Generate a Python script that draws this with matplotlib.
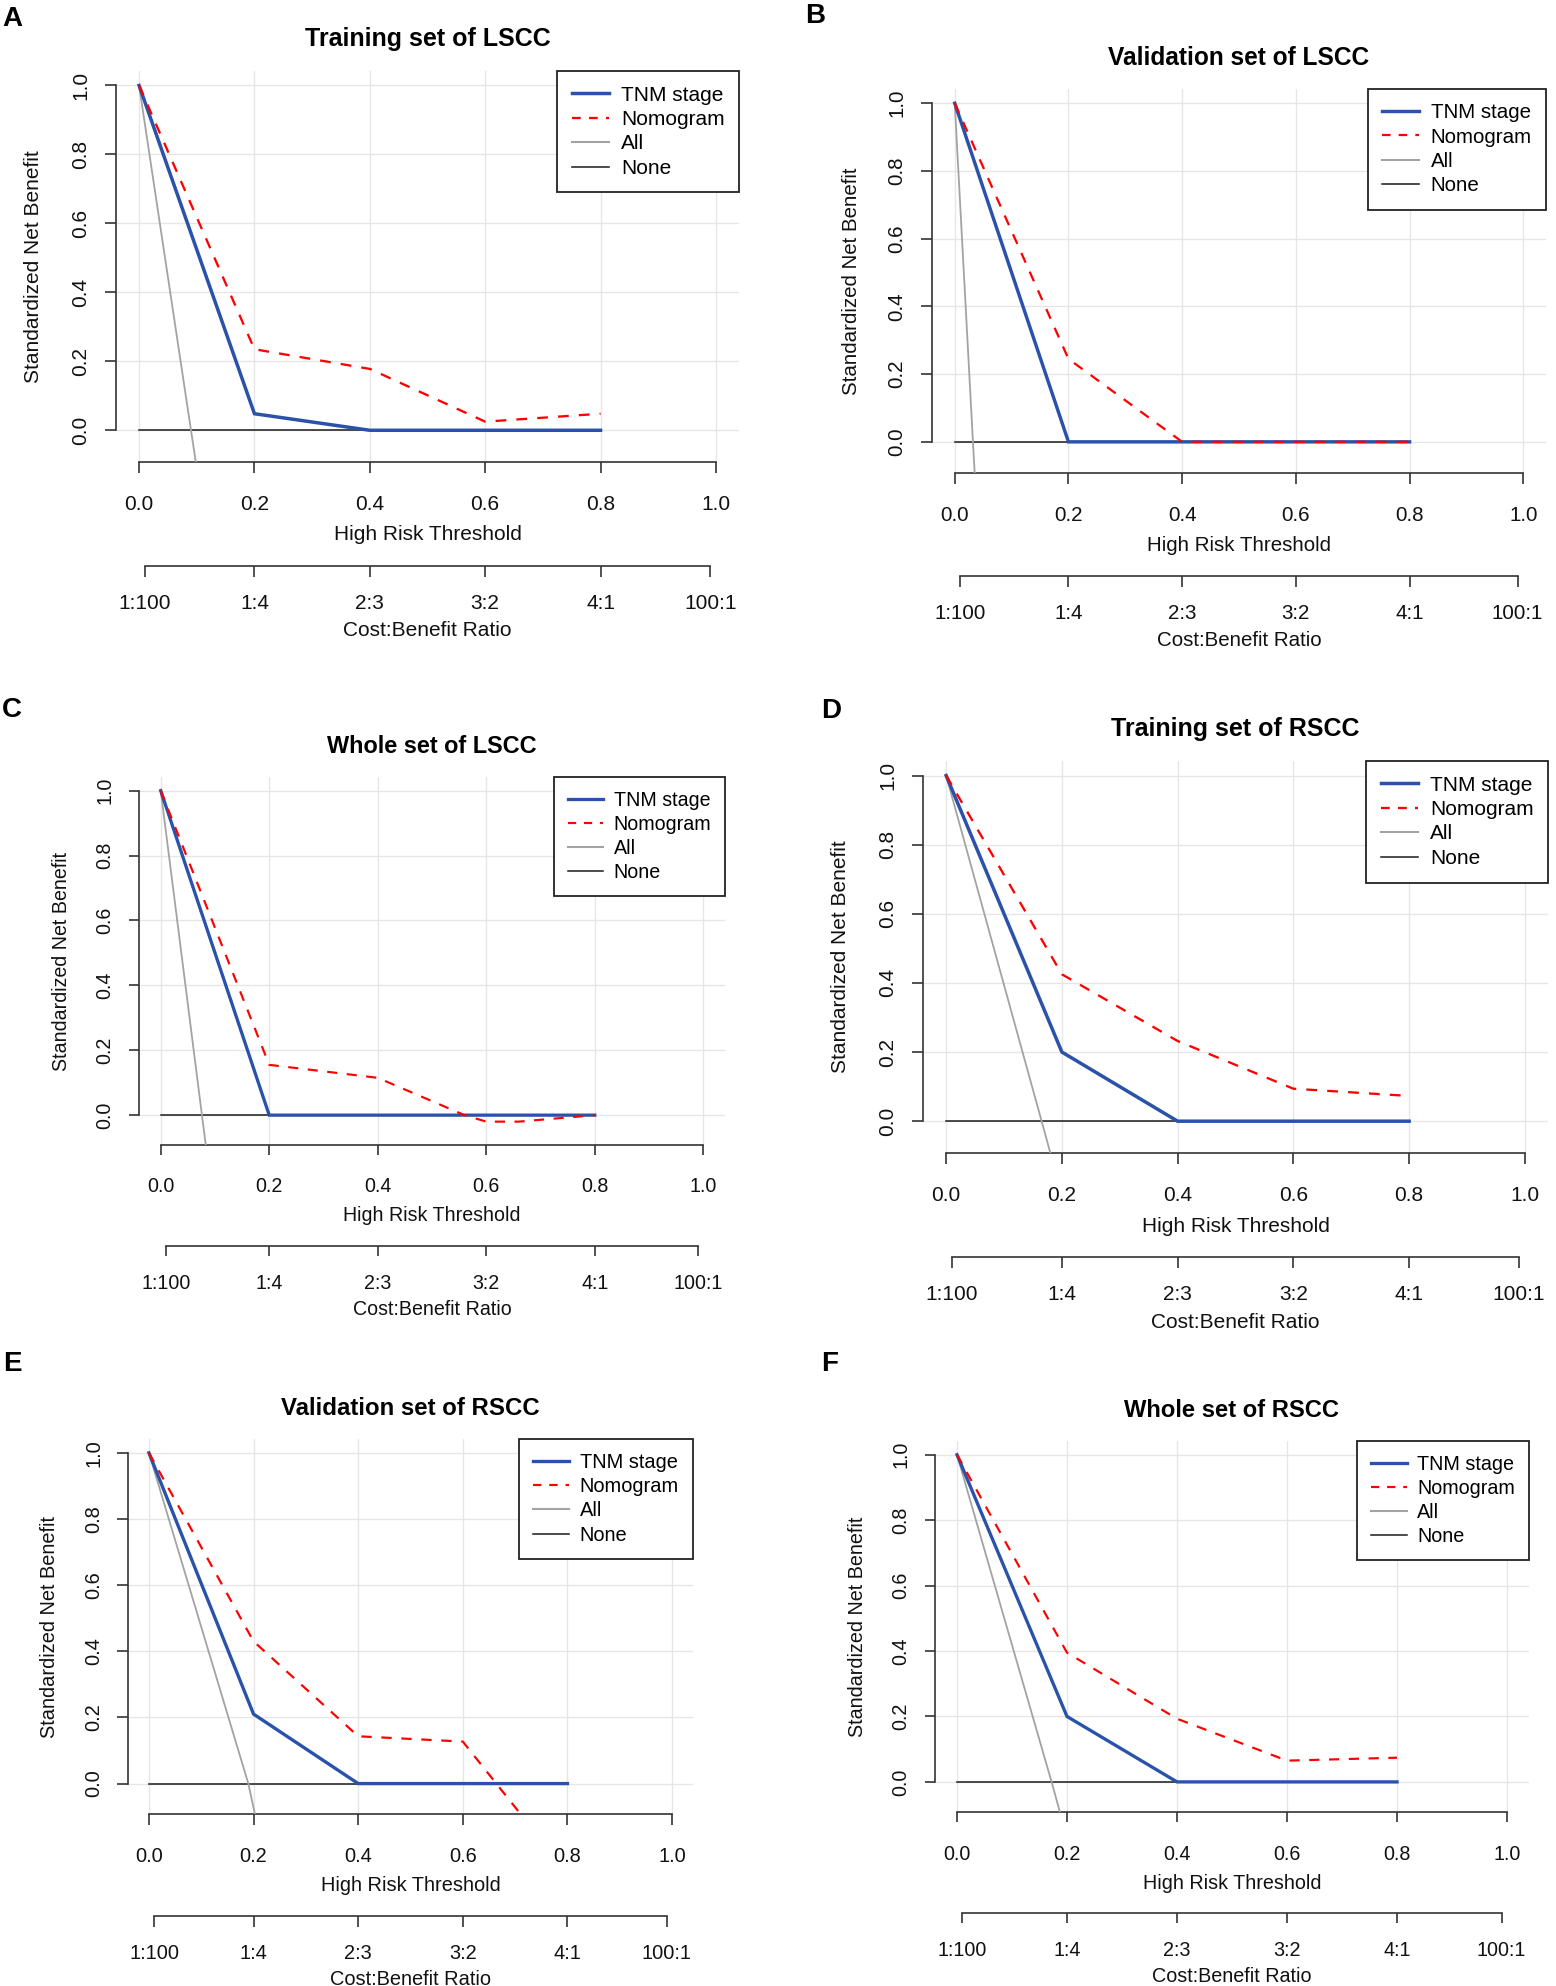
import matplotlib
matplotlib.use("Agg")
import matplotlib.pyplot as plt
import matplotlib.transforms as mtransforms
from matplotlib.lines import Line2D

plt.rcParams['font.family'] = ['Liberation Sans', 'DejaVu Sans']

# ---------------- data ----------------
thresholds = [0.0, 0.2, 0.4, 0.6, 0.8]
x_ticks = [0.0, 0.2, 0.4, 0.6, 0.8, 1.0]
x_ticklabels = ["0.0", "0.2", "0.4", "0.6", "0.8", "1.0"]
y_ticks = [0.0, 0.2, 0.4, 0.6, 0.8, 1.0]
y_ticklabels = ["0.0", "0.2", "0.4", "0.6", "0.8", "1.0"]
cost_ticks = [0.0099, 0.2, 0.4, 0.6, 0.8, 0.990]
cost_labels = ["1:100", "1:4", "2:3", "3:2", "4:1", "100:1"]
legend_labels = ["TNM stage", "Nomogram", "All", "None"]

panel_letters = ["A", "B", "C", "D", "E", "F"]
titles = ["Training set of LSCC", "Validation set of LSCC", "Whole set of LSCC",
          "Training set of RSCC", "Validation set of RSCC", "Whole set of RSCC"]

# TNM stage curves (at thresholds)
tnm_A = [1.0, 0.048, 0.0, 0.0, 0.0]
tnm_B = [1.0, 0.0, 0.0, 0.0, 0.0]
tnm_C = [1.0, 0.0, 0.0, 0.0, 0.0]
tnm_D = [1.0, 0.20, 0.0, 0.0, 0.0]
tnm_E = [1.0, 0.21, 0.0, 0.0, 0.0]
tnm_F = [1.0, 0.20, 0.0, 0.0, 0.0]

# Nomogram curves
nomo_x_A = [0.0, 0.2, 0.4, 0.6, 0.8]
nomo_y_A = [1.0, 0.235, 0.178, 0.025, 0.048]
nomo_x_B = [0.0, 0.2, 0.4, 0.6, 0.8]
nomo_y_B = [1.0, 0.245, 0.0, 0.0, 0.0]
nomo_x_C = [0.0, 0.2, 0.4, 0.56, 0.6, 0.66, 0.8]
nomo_y_C = [1.0, 0.155, 0.115, 0.0, -0.02, -0.02, 0.0]
nomo_x_D = [0.0, 0.2, 0.4, 0.6, 0.8]
nomo_y_D = [1.0, 0.425, 0.232, 0.094, 0.073]
nomo_x_E = [0.0, 0.2, 0.4, 0.6, 0.8]
nomo_y_E = [1.0, 0.43, 0.143, 0.127, -0.27]
nomo_x_F = [0.0, 0.2, 0.4, 0.6, 0.8]
nomo_y_F = [1.0, 0.395, 0.193, 0.065, 0.074]

# "All" (treat all) curves
all_x_A = [0.0, 0.09, 0.10]
all_y_A = [1.0, 0.0, -0.11]
all_x_B = [0.0, 0.032, 0.036]
all_y_B = [1.0, 0.0, -0.12]
all_x_C = [0.0, 0.076, 0.086]
all_y_C = [1.0, 0.0, -0.13]
all_x_D = [0.0, 0.165, 0.183]
all_y_D = [1.0, 0.0, -0.11]
all_x_E = [0.0, 0.19, 0.205]
all_y_E = [1.0, 0.0, -0.11]
all_x_F = [0.0, 0.172, 0.19]
all_y_F = [1.0, 0.0, -0.11]

none_x = [0.0, 0.8]
none_y = [0.0, 0.0]

tnm_all = [tnm_A, tnm_B, tnm_C, tnm_D, tnm_E, tnm_F]
nomo_all = [(nomo_x_A, nomo_y_A), (nomo_x_B, nomo_y_B), (nomo_x_C, nomo_y_C),
            (nomo_x_D, nomo_y_D), (nomo_x_E, nomo_y_E), (nomo_x_F, nomo_y_F)]
treat_all = [(all_x_A, all_y_A), (all_x_B, all_y_B), (all_x_C, all_y_C),
             (all_x_D, all_y_D), (all_x_E, all_y_E), (all_x_F, all_y_F)]

# ---------------- layout (pixels, origin top-left) ----------------
W, H = 1556, 1986
boxes = [(116, 71, 739, 462), (932, 89, 1546, 473), (139, 777, 725, 1145),
         (923, 761, 1548, 1153), (128, 1439, 693, 1814), (935, 1441, 1529, 1812)]
letter_pos = [(12, 19), (815, 16), (12, 710), (831, 711), (12, 1364), (830, 1364)]

BLUE = "#2A52AA"
RED = "#FF0000"
GRAY = "#A3A3A3"
BLACK = "#1A1A1A"
AXC = "#333333"
GRIDC = "#E6E6E6"
PX2PT = 72.0 / 100.0

fig = plt.figure(figsize=(W / 100, H / 100), dpi=100)

for i in range(6):
    l, t, r, b = boxes[i]
    wpx, hpx = r - l, b - t
    s = hpx / 391.0
    so = (1.0 + s) / 2.0
    ax = fig.add_axes([l / W, 1 - b / H, wpx / W, hpx / H])
    ax.set_xlim(-0.04, 1.04)
    ax.set_ylim(-0.092, 1.042)
    ax.set_xticks(x_ticks)
    ax.set_xticklabels(x_ticklabels)
    ax.set_yticks(y_ticks)
    ax.set_yticklabels(y_ticklabels, rotation=90, va="center")
    ax.grid(True, color=GRIDC, lw=1.0, zorder=0)
    ax.set_axisbelow(True)
    for sp in ("top", "right"):
        ax.spines[sp].set_visible(False)
    for sp in ("left", "bottom"):
        ax.spines[sp].set_color(AXC)
        ax.spines[sp].set_linewidth(1.2)
        ax.spines[sp].set_bounds(0, 1)
    fs = 15 * s
    ax.tick_params(axis="both", direction="out", length=11 * s * PX2PT, width=1.2,
                   color=AXC, labelsize=fs, labelcolor="#111111")
    ax.tick_params(axis="x", pad=(41 * so - 7.8 * s - 11 * s) * PX2PT)
    ax.tick_params(axis="y", pad=(26 * s - 11 * s) * PX2PT)

    # curves
    ax.plot(none_x, none_y, color=BLACK, lw=1.1, zorder=2)
    ax.plot(treat_all[i][0], treat_all[i][1], color=GRAY, lw=1.3, zorder=3)
    ax.plot(thresholds, tnm_all[i], color=BLUE, lw=2.5 * s, zorder=4,
            solid_joinstyle="miter")
    ax.plot(nomo_all[i][0], nomo_all[i][1], color=RED, lw=1.65 * s, zorder=5,
            linestyle=(0, (4.7, 4.4)))

    ax.set_xlabel("High Risk Threshold", fontsize=fs, va="center", color="#111111")
    ax.xaxis.set_label_coords(0.5, -73 * so / hpx)
    ax.set_ylabel("Standardized Net Benefit", fontsize=fs, va="center", color="#111111")
    ax.yaxis.set_label_coords(-82 * s / wpx, 0.5)
    ax.set_title(titles[i], fontsize=18 * s, fontweight="bold", y=1 + 32 * s / hpx,
                 va="center", pad=0)

    handles = [Line2D([], [], color=BLUE, lw=2.5 * s),
               Line2D([], [], color=RED, lw=1.65 * s, linestyle=(0, (3.8, 3.6))),
               Line2D([], [], color=GRAY, lw=1.5),
               Line2D([], [], color=BLACK, lw=1.1)]
    leg = ax.legend(handles, legend_labels, loc="upper right", bbox_to_anchor=(1, 1),
                    borderaxespad=0, fontsize=fs, frameon=True, fancybox=False,
                    edgecolor="#222222", framealpha=1, handlelength=1.8,
                    handletextpad=0.55, borderpad=0.7, labelspacing=0.26)
    leg.get_frame().set_linewidth(1.3)

    # cost:benefit axis
    cy = b + 104 * so
    cax = fig.add_axes([l / W, 1 - cy / H, wpx / W, 1e-6])
    cax.set_xlim(-0.04, 1.04)
    cax.patch.set_visible(False)
    cax.yaxis.set_visible(False)
    for sp in ("top", "right", "left"):
        cax.spines[sp].set_visible(False)
    cax.spines["bottom"].set_color(AXC)
    cax.spines["bottom"].set_linewidth(1.2)
    cax.spines["bottom"].set_bounds(cost_ticks[0], cost_ticks[-1])
    cax.set_xticks(cost_ticks)
    cax.set_xticklabels(cost_labels)
    cax.tick_params(axis="x", direction="out", length=11 * s * PX2PT, width=1.2,
                    color=AXC, labelsize=fs, labelcolor="#111111",
                    pad=(36 * so - 7.8 * s - 11 * s) * PX2PT)
    cax.set_xlabel("Cost:Benefit Ratio", fontsize=fs, va="center", color="#111111")
    cax.xaxis.set_label_coords(0.5, 0)
    cax.xaxis.label.set_transform(
        mtransforms.offset_copy(cax.transAxes, fig=fig, x=0, y=-65 * so, units="dots"))
    cax.xaxis.label.set_position((0.5, 0))

    lx, ly = letter_pos[i]
    fig.text(lx / W, 1 - ly / H, panel_letters[i], fontsize=20, fontweight="bold",
             ha="center", va="center")

fig.savefig("out.png", dpi=100)
